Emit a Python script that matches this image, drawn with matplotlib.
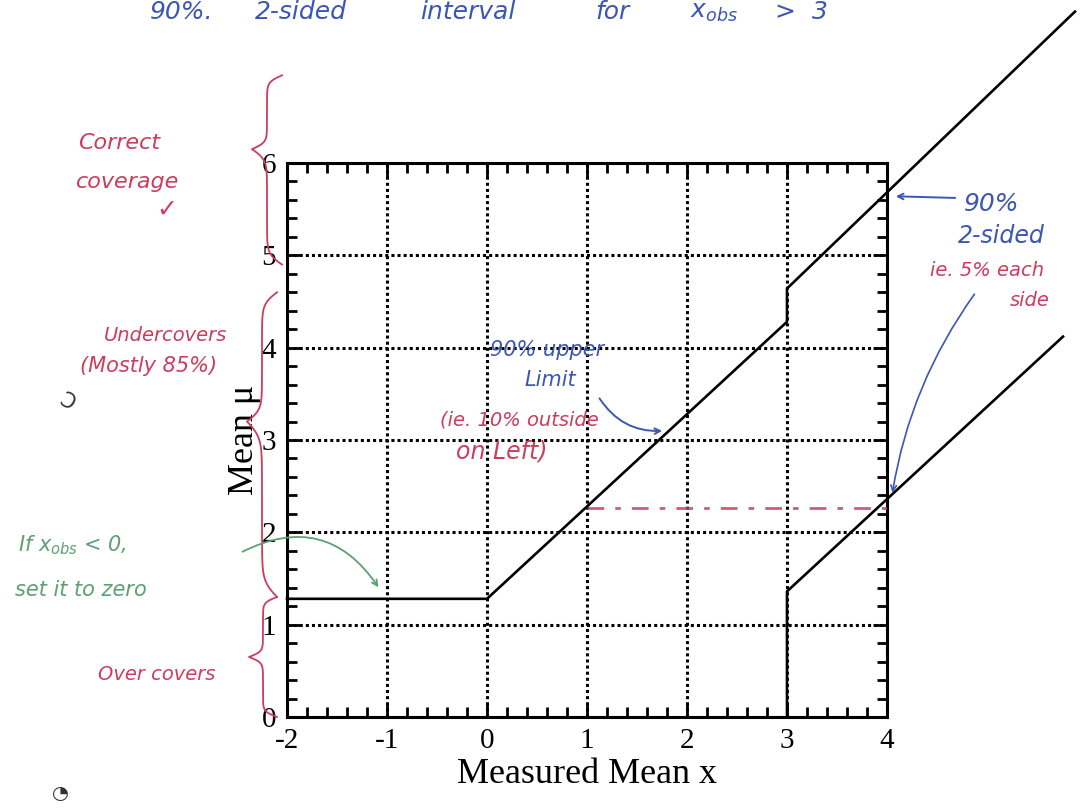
import numpy as np
import matplotlib.pyplot as plt
from matplotlib.ticker import MultipleLocator

plt.rcParams["axes.unicode_minus"] = False

# ---- flip-flopping 90% belt (gaussian, sigma = 1) ----
upper_x = [-2.0, 0.0, 3.0, 3.0, 5.88]
upper_y = [1.28, 1.28, 4.28, 4.64, 7.64]
lower_x = [3.0, 3.0, 5.76]
lower_y = [0.0, 1.36, 4.12]

# hand-drawn level at x_obs = 1
dash_x = [1.0, 4.0]
dash_y = [2.26, 2.26]

x_ticks = [-2, -1, 0, 1, 2, 3, 4]
y_ticks = [0, 1, 2, 3, 4, 5, 6]

# coverage brackets on the mu axis: (bottom, top, tip)
brace_correct = (4.9, 6.95, 6.15)
brace_under = (1.3, 4.6, 3.2)
brace_over = (0.0, 1.3, 0.65)

RED = "#cc3d5c"
BLUE = "#3c56b4"
GREEN = "#5e9f74"
HAND = dict(family="DejaVu Sans", style="oblique", va="center")

W, H = 1083, 809
fig = plt.figure(figsize=(W / 100, H / 100), dpi=100)
ax = fig.add_axes([287 / W, 1 - 717 / H, 600 / W, 554 / H])


def fxy(px, py):
    # pixel position on the page -> figure fraction
    return px / W, 1 - py / H


# belt curves (run off the frame like in the printed figure)
ax.plot(upper_x, upper_y, color="black", lw=1.9, clip_on=False, zorder=5)
ax.plot(lower_x, lower_y, color="black", lw=1.9, clip_on=False, zorder=5)
ax.plot(dash_x, dash_y, color=RED, lw=2, ls=(0, (6, 4, 2, 4)), alpha=0.85, zorder=4)

ax.set_xlim(-2, 4)
ax.set_ylim(0, 6)
ax.set_xticks(x_ticks)
ax.set_yticks(y_ticks)
ax.xaxis.set_minor_locator(MultipleLocator(0.2))
ax.yaxis.set_minor_locator(MultipleLocator(0.2))
ax.grid(True, which="major", color="black", lw=2.2, ls=(0, (1, 1)))
ax.tick_params(which="both", direction="in", top=True, right=True, width=2)
ax.tick_params(which="major", length=10, labelsize=21, pad=8)
ax.tick_params(which="minor", length=7)
for lbl in ax.get_xticklabels() + ax.get_yticklabels():
    lbl.set_family("Liberation Serif")
for s in ax.spines.values():
    s.set_linewidth(2.2)

ax.set_xlabel("Measured Mean x", family="Liberation Serif", fontsize=26, labelpad=3)
ax.set_ylabel("Mean \u03bc", family="Liberation Serif", fontsize=26, labelpad=0)


def brace(x0, y0, y1, ytip, w, color):
    # curly bracket on the left, pointing left at ytip
    beta = 22
    s = np.linspace(0, 1, 120)
    v = 1 / (1 + np.exp(-beta * s)) + 1 / (1 + np.exp(-beta * (s - 1))) - 0.5
    y_top = y1 + (ytip - y1) * s
    y_bot = y0 + (ytip - y0) * s
    ys = np.concatenate([y_top, y_bot[::-1]])
    xs = np.concatenate([x0 - w * v, (x0 - w * v)[::-1]])
    ax.plot(xs, ys, color=color, lw=1.3, clip_on=False)


brace(-2.05, *brace_correct, 0.3, RED)
brace(-2.1, *brace_under, 0.3, RED)
brace(-2.1, *brace_over, 0.28, RED)

# ---- notes ----
title_words = [(150, "90%."), (255, "2-sided"), (420, "interval"), (595, "for"),
               (690, r"$x_{obs}$"), (775, ">  3")]
for px_, word in title_words:
    fig.text(*fxy(px_, 12), word, color=BLUE, fontsize=18, **HAND)

fig.text(*fxy(78, 143), "Correct", color=RED, fontsize=16, **HAND)
fig.text(*fxy(76, 182), "coverage", color=RED, fontsize=16, **HAND)
fig.text(*fxy(156, 210), "\u2713", color=RED, fontsize=18, va="center")

fig.text(*fxy(104, 336), "Undercovers", color=RED, fontsize=14, **HAND)
fig.text(*fxy(80, 366), "(Mostly 85%)", color=RED, fontsize=15, **HAND)
fig.text(*fxy(98, 674), "Over covers", color=RED, fontsize=14, **HAND)

fig.text(*fxy(18, 545), r"If $x_{obs}$ < 0,", color=GREEN, fontsize=15, **HAND)
fig.text(*fxy(15, 590), "set it to zero", color=GREEN, fontsize=15, **HAND)
ax.annotate("", xy=(-1.07, 1.38), xycoords="data",
            xytext=fxy(240, 553), textcoords="figure fraction",
            arrowprops=dict(arrowstyle="->", color=GREEN, lw=1.3,
                            connectionstyle="arc3,rad=-0.45"))

fig.text(*fxy(490, 350), "90% upper", color=BLUE, fontsize=15, **HAND)
fig.text(*fxy(524, 380), "Limit", color=BLUE, fontsize=15, **HAND)
ax.annotate("", xy=(1.78, 3.1), xycoords="data",
            xytext=fxy(598, 396), textcoords="figure fraction",
            arrowprops=dict(arrowstyle="->", color=BLUE, lw=1.4,
                            connectionstyle="arc3,rad=0.3"))
fig.text(*fxy(440, 420), "(ie. 10% outside", color=RED, fontsize=14, **HAND)
fig.text(*fxy(456, 452), "on Left)", color=RED, fontsize=17, **HAND)

fig.text(*fxy(964, 204), "90%", color=BLUE, fontsize=18, **HAND)
fig.text(*fxy(958, 236), "2-sided", color=BLUE, fontsize=17, **HAND)
fig.text(*fxy(930, 270), "ie. 5% each", color=RED, fontsize=14, **HAND)
fig.text(*fxy(1010, 300), "side", color=RED, fontsize=14, **HAND)
ax.annotate("", xy=(4.06, 5.64), xycoords="data",
            xytext=fxy(958, 198), textcoords="figure fraction",
            annotation_clip=False,
            arrowprops=dict(arrowstyle="->", color=BLUE, lw=1.4))
ax.annotate("", xy=(4.05, 2.4), xycoords="data",
            xytext=fxy(976, 292), textcoords="figure fraction",
            annotation_clip=False,
            arrowprops=dict(arrowstyle="->", color=BLUE, lw=1.2,
                            connectionstyle="arc3,rad=0.12"))

# page marks
fig.text(*fxy(56, 402), "\u0186", color="#333333", fontsize=15, va="center", rotation=-30)
fig.text(*fxy(52, 793), "\u25d4", color="#333333", fontsize=14, va="center")

fig.savefig("out.png", dpi=100)
